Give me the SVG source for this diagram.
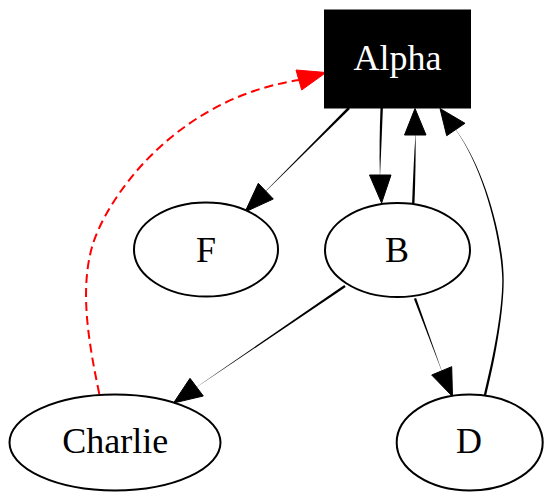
<svg xmlns="http://www.w3.org/2000/svg" width="552" height="502" viewBox="0 0 552 502">
<style>
.node ellipse{fill:#fff;stroke:#000;stroke-width:2}
.lbl{font-family:"Liberation Serif","Times New Roman",serif;font-size:36px;text-anchor:middle;fill:#000}
.edge{fill:#000;stroke:none}
.head{fill:#000;stroke:#000;stroke-width:1}
</style>
<rect width="552" height="502" fill="#fff"/>
<g id="connectors">
  <!-- Alpha -> F -->
  <path class="edge" d="M349.9,108.9 L348.1,107.1 L265.7,191.1 L265.9,191.3 Z"/>
  <polygon class="head" points="258.3,183.3 273.3,199 245,212"/>
  <!-- Alpha -> B -->
  <path class="edge" d="M380.5,108 Q379,145 379.9,175 L380.1,175 Q381.4,145 382.9,108 Z"/>
  <polygon class="head" points="369.5,175 391,175 381.6,203"/>
  <!-- B -> Alpha -->
  <path class="edge" d="M412.1,203 Q413.5,165 415.4,135 L415.6,135 Q415.9,165 414.5,203 Z"/>
  <polygon class="head" points="404.5,135 426,135 415,108.5"/>
  <!-- D -> Alpha -->
  <path class="edge" d="M483.8,395 C493.8,355 502.3,310 502.3,280 C501.3,240 484.5,170 455.9,130 L456.1,130 C485.5,170 503.7,240 503.7,280 C503.7,310 496.2,355 486.2,395 Z"/>
  <polygon class="head" points="446.7,135.7 465,123.3 440,108.5"/>
  <!-- B -> Charlie -->
  <path class="edge" d="M345.7,287 L344.3,285 L196.6,386.9 L196.8,387.1 Z"/>
  <polygon class="head" points="190,378.3 203.3,396 173.5,403"/>
  <!-- B -> D -->
  <path class="edge" d="M416.1,297.9 L413.9,298.7 L441.6,370.8 L441.8,370.8 Z"/>
  <polygon class="head" points="431.7,375 451.7,366.7 452.5,396.5"/>
  <!-- Charlie -> Alpha (red dashed) -->
  <path d="M99.3,394 C88,340 80,290 92,247 C104,204 170,100 299,80" fill="none" stroke="#ff0000" stroke-width="2" stroke-dasharray="9,5"/>
  <polygon points="296,70 301.7,90 326,72.5" fill="#ff0000" stroke="#ff0000" stroke-width="1"/>
</g>
<g id="node-Alpha" class="node">
  <rect x="324.5" y="10" width="146" height="98" fill="#000" stroke="#000" stroke-width="1"/>
  <text class="lbl" x="397.5" y="70" style="fill:#fff">Alpha</text>
</g>
<g id="node-F" class="node">
  <ellipse cx="206" cy="249.5" rx="72" ry="47"/>
  <text class="lbl" x="206" y="261.7">F</text>
</g>
<g id="node-B" class="node">
  <ellipse cx="397.5" cy="250" rx="72.5" ry="47"/>
  <text class="lbl" x="397" y="261.7">B</text>
</g>
<g id="node-Charlie" class="node">
  <ellipse cx="115" cy="442.5" rx="105.5" ry="48"/>
  <text class="lbl" x="115.2" y="453.3">Charlie</text>
</g>
<g id="node-D" class="node">
  <ellipse cx="469.7" cy="442.5" rx="73" ry="48"/>
  <text class="lbl" x="469" y="453.3">D</text>
</g>
</svg>
